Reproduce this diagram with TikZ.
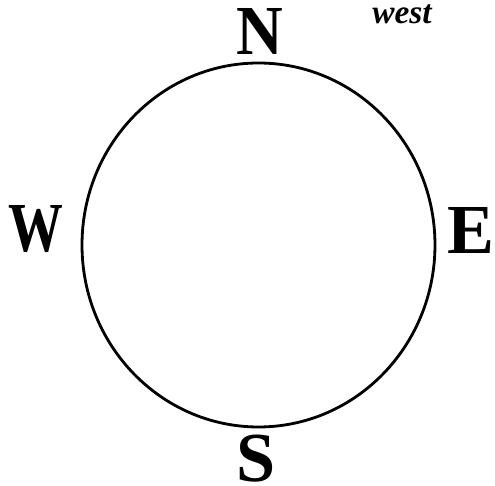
\documentclass[tikz,border=0pt]{standalone}
\usepackage{fontspec}
\usetikzlibrary{shapes.geometric}
\setmainfont{Liberation Serif}
\begin{document}
\begin{tikzpicture}[x=0.02cm,y=-0.02cm,
  dir/.style={font=\fontsize{40}{40}\selectfont\bfseries, inner sep=0pt},
  hand/.style={font=\fontsize{19}{19}\selectfont\bfseries\itshape, inner sep=0pt}]
\useasboundingbox (0,0) rectangle (495,486);
\node[draw, ellipse, line width=1.6pt, minimum width=353*0.02cm, minimum height=364*0.02cm, inner sep=0pt] (c) at (258.5,245) {};
\node[dir, xscale=0.92] (n) at (260,31) {N};
\node[dir] (e) at (471,230) {E};
\node[dir, xscale=0.78] (w) at (36,229) {W};
\node[dir] (s) at (256,459) {S};
\node[hand] (note) at (402,14) {west};
\end{tikzpicture}
\end{document}
